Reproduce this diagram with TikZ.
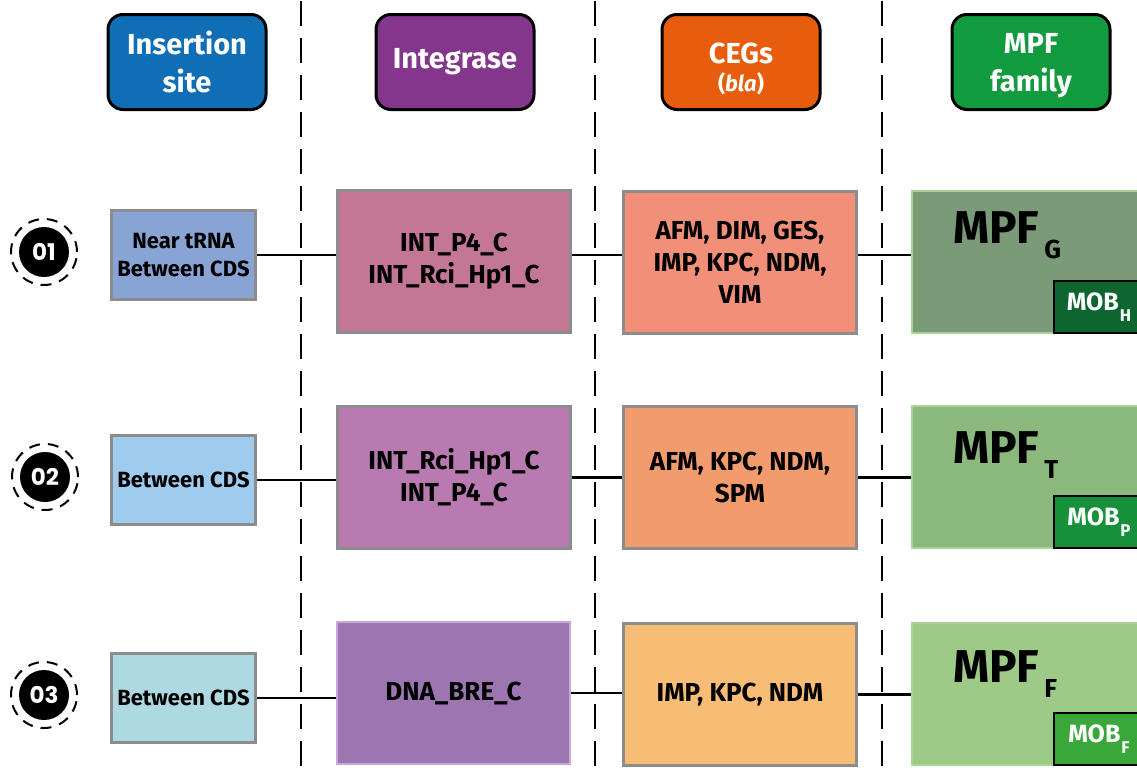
\documentclass[tikz,border=0pt]{standalone}
\usepackage{fontspec}
\setmainfont{Fira Sans}
\newfontfamily\numfont{Poppins}
\definecolor{hblue}{HTML}{106EB7}
\definecolor{hpurple}{HTML}{84368D}
\definecolor{horange}{HTML}{E85C0D}
\definecolor{hgreen}{HTML}{129A3E}
\definecolor{boxgray}{HTML}{8C8C8C}
\definecolor{mpfedge}{HTML}{A8D596}
\definecolor{sA}{HTML}{88A4D5}
\definecolor{sB}{HTML}{9ECBEE}
\definecolor{sC}{HTML}{ADDAE2}
\definecolor{iA}{HTML}{C47794}
\definecolor{iB}{HTML}{B979B1}
\definecolor{iC}{HTML}{9D75B1}
\definecolor{iCedge}{HTML}{C8A8D6}
\definecolor{cA}{HTML}{F28F79}
\definecolor{cB}{HTML}{F29C6E}
\definecolor{cC}{HTML}{F8BD74}
\definecolor{mA}{HTML}{7A9A78}
\definecolor{mB}{HTML}{8AB87D}
\definecolor{mC}{HTML}{9DCB87}
\definecolor{oA}{HTML}{0D6630}
\definecolor{oB}{HTML}{16913A}
\definecolor{oC}{HTML}{3AA73A}
\newcommand{\mpfsub}[1]{\hspace{5pt}\raisebox{-15pt}{\fontsize{26}{26}\selectfont\bfseries #1}}
\newcommand{\mobsub}[1]{\hspace{1pt}\raisebox{-11pt}{\fontsize{17}{17}\selectfont\bfseries #1}}
\begin{document}
\begin{tikzpicture}[x=1pt,y=-1pt,
  hdr/.style={rounded corners=15pt, draw=black, line width=3pt, minimum width=158pt, minimum height=95pt, text=white, font=\fontsize{29}{38}\selectfont\bfseries, align=center, inner sep=0pt},
  sitebox/.style={draw=boxgray, line width=3pt, minimum width=144pt, minimum height=89pt, font=\fontsize{22}{28}\selectfont\bfseries, align=center, inner sep=0pt, anchor=north west},
  bigbox/.style={draw=boxgray, line width=3pt, minimum width=233pt, minimum height=142pt, font=\fontsize{26}{32}\selectfont\bfseries, align=center, inner sep=0pt, anchor=north west},
  mpfbox/.style={draw=mpfedge, line width=2pt, minimum width=240pt, minimum height=142pt, inner sep=0pt, anchor=north west},
  mobbox/.style={draw=black, line width=2pt, minimum width=90pt, minimum height=52pt, inner sep=0pt, anchor=north west, text=white, font=\fontsize{25}{25}\selectfont\bfseries},
  mpftext/.style={anchor=base west, inner sep=0pt, font=\fontsize{46}{46}\selectfont\bfseries},
  numc/.style={circle, fill=black, minimum size=50pt, inner sep=0pt, text=white, font=\numfont\bfseries\fontsize{23}{23}\selectfont},
  ring/.style={draw=black, line width=2pt, dash pattern=on 11pt off 8pt},
  sep/.style={draw=black, line width=2pt, dash pattern=on 25pt off 12pt},
  conn/.style={draw=black, line width=2.5pt}
]
\useasboundingbox (0,0) rectangle (1137,774);
\clip (0,0) rectangle (1137,774);
% separators
\coordinate (d1t) at (301,1); \coordinate (d1b) at (301,774);
\coordinate (d2t) at (595,1); \coordinate (d2b) at (595,774);
\coordinate (d3t) at (882,1); \coordinate (d3b) at (882,774);
\draw[sep] (d1t) -- (d1b);
\draw[sep] (d2t) -- (d2b);
\draw[sep] (d3t) -- (d3b);
% headers
\node[hdr, fill=hblue] (h1) at (187,62) {Insertion\\site};
\node[hdr, fill=hpurple] (h2) at (455,62) {Integrase};
\node[hdr, fill=horange] (h3) at (741,62) {\rule{0pt}{30pt}CEGs\\[-10pt]\smash{\fontsize{22}{24}\selectfont(\textit{bla})}};
\node[hdr, fill=hgreen] (h4) at (1031,62) {MPF\\\smash{family}};
% row 1
\node[sitebox, fill=sA] (s1) at (110,209) {Near tRNA\\Between CDS};
\node[bigbox, fill=iA] (i1) at (336,189) {INT\_P4\_C\\INT\_Rci\_Hp1\_C};
\node[bigbox, fill=cA] (c1) at (622,190) {AFM, DIM, GES,\\IMP, KPC, NDM,\\VIM};
\node[mpfbox, fill=mA] (m1) at (911,190) {};
\node[mobbox, fill=oA] (o1) at (1053,280) {MOB\mobsub{H}};
\node[mpftext] (t1) at (953,243) {MPF\mpfsub{G}};
% row 2
\node[sitebox, fill=sB] (s2) at (110,434) {Between CDS};
\node[bigbox, fill=iB] (i2) at (336,405) {INT\_Rci\_Hp1\_C\\INT\_P4\_C};
\node[bigbox, fill=cB] (c2) at (622,405) {AFM, KPC, NDM,\\SPM};
\node[mpfbox, fill=mB] (m2) at (911,405) {};
\node[mobbox, fill=oB] (o2) at (1053,495) {MOB\mobsub{P}};
\node[mpftext] (t2) at (953,463) {MPF\mpfsub{T}};
% row 3
\node[sitebox, fill=sC] (s3) at (110,652) {Between CDS};
\node[bigbox, fill=iC, draw=iCedge, line width=2pt] (i3) at (336,621) {DNA\_BRE\_C};
\node[bigbox, fill=cC] (c3) at (622,622) {IMP, KPC, NDM};
\node[mpfbox, fill=mC] (m3) at (911,622) {};
\node[mobbox, fill=oC] (o3) at (1053,712) {MOB\mobsub{F}};
\node[mpftext] (t3) at (953,682) {MPF\mpfsub{F}};
% number circles
\node[numc] (n1) at (44,252) {01};
\node[numc] (n2) at (45,477) {02};
\node[numc] (n3) at (44,695) {03};
\draw[ring] (n1.center) circle (33pt);
\draw[ring] (n2.center) circle (33pt);
\draw[ring] (n3.center) circle (33pt);
% connectors
\draw[conn] (s1.east) -- (s1.east -| i1.west);
\draw[conn] (i1.east |- s1.east) -- (c1.west |- s1.east);
\draw[conn] (c1.east |- s1.east) -- (m1.west |- s1.east);
\draw[conn] (s2.east) -- (s2.east -| i2.west);
\draw[conn] (i2.east) -- (i2.east -| c2.west);
\draw[conn] (c2.east) -- (c2.east -| m2.west);
\draw[conn] (s3.east) -- (s3.east -| i3.west);
\draw[conn] (i3.east) -- (i3.east -| c3.west);
\draw[conn] (c3.east) -- (c3.east -| m3.west);
\end{tikzpicture}
\end{document}
